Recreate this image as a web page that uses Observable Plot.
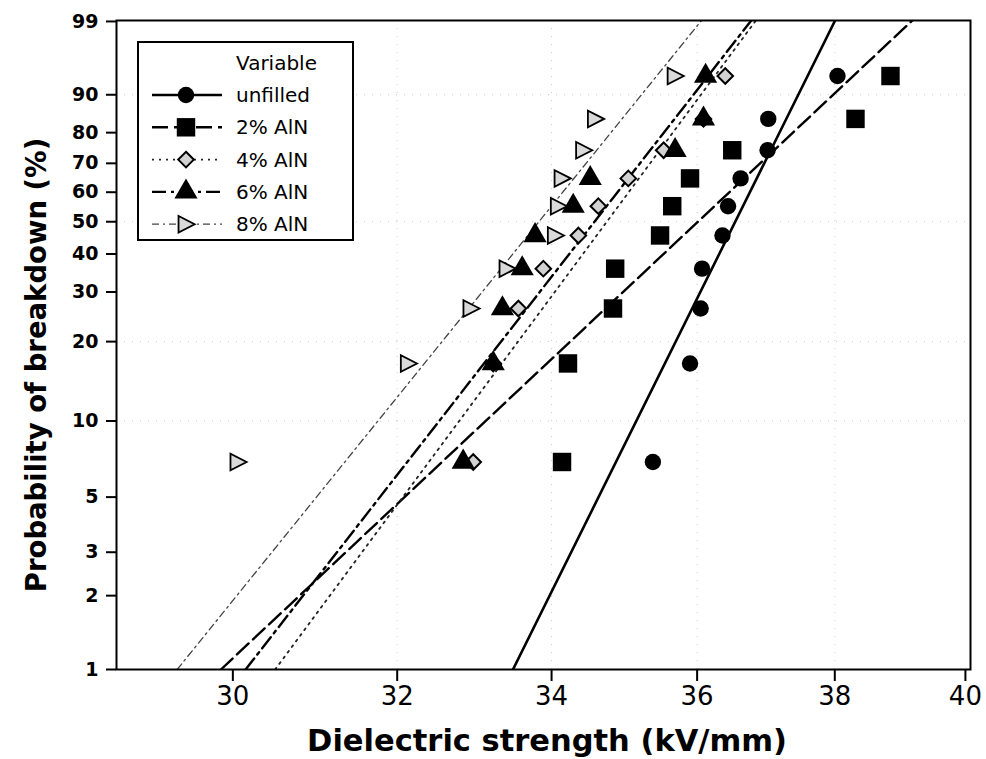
<!DOCTYPE html>
<html><head><meta charset="utf-8">
<script src="https://cdn.jsdelivr.net/npm/d3@7"></script>
<script src="https://cdn.jsdelivr.net/npm/@observablehq/plot@0.6"></script>
<style>body{margin:0;background:#fff} svg{display:block}</style>
</head><body><div id="chart"></div>
<script>
// ---- data ----
const seriesNames = ["unfilled", "2% AlN", "4% AlN", "6% AlN", "8% AlN"];
// plotting positions (median ranks, %), same for every series
const probs = [6.9, 16.6, 26.3, 35.9, 45.6, 55.2, 64.8, 74.4, 84.0, 93.6];
const unfilled = [35.38, 35.90, 36.05, 36.07, 36.36, 36.44, 36.62, 37.01, 37.02, 38.04];
const aln2 = [34.14, 34.22, 34.83, 34.86, 35.48, 35.65, 35.90, 36.50, 38.31, 38.84];
const aln4 = [32.97, 33.23, 33.56, 33.89, 34.36, 34.63, 35.04, 35.53, 36.09, 36.40];
const aln6 = [32.84, 33.23, 33.35, 33.61, 33.78, 34.29, 34.52, 35.69, 36.09, 36.12];
const aln8 = [30.06, 32.14, 32.94, 33.41, 34.05, 34.09, 34.14, 34.43, 34.59, 35.69];
// Weibull fit lines (shape, scale) per series
const fitShape = [48.5, 22.6, 32.5, 30.9, 29.8];
const fitScale = [36.82, 36.60, 35.14, 34.99, 34.25];
const xTicks = [30, 32, 34, 36, 38, 40];
const yTicks = [1, 2, 3, 5, 10, 20, 30, 40, 50, 60, 70, 80, 90, 99];

// ---- helpers ----
const W = p => Math.log(-Math.log(1 - p / 100));
const Winv = w => Math.round(100 * (1 - Math.exp(-Math.exp(w))));
const yMin = W(1), yMax = W(99) + 0.009;
const values = [unfilled, aln2, aln4, aln6, aln8];
const triRight = {
  draw(ctx, size) {
    const a = Math.sqrt(size / Math.PI);
    ctx.moveTo(a * 1.05, 0);
    ctx.lineTo(-a * 0.9, -a);
    ctx.lineTo(-a * 0.9, a);
    ctx.closePath();
  }
};
const styles = [
  {symbol: "circle", r: 8.2, fill: "black", stroke: "none", sw: 0, dash: null, lw: 2.6, lc: "black"},
  {symbol: "square", r: 10.4, fill: "black", stroke: "none", sw: 0, dash: "16,6", lw: 2.4, lc: "black"},
  {symbol: "diamond2", r: 7.0, fill: "#d2d2d2", stroke: "black", sw: 2, dash: "2,5", lw: 1.8, lc: "#222"},
  {symbol: "triangle", r: 8.6, fill: "black", stroke: "none", sw: 0, dash: "14,5,3,5", lw: 2.4, lc: "black"},
  {symbol: triRight, r: 8.3, fill: "#d9d9d9", stroke: "black", sw: 1.8, dash: "7,4,2,4", lw: 1.3, lc: "#444"}
];
const points = values.map((vals, k) => vals.map((v, i) => ({series: seriesNames[k], x: v, p: probs[i]})));
const fits = fitShape.map((b, k) => [yMin, yMax].map(w => ({x: fitScale[k] * Math.exp(w / b), w})));

const marks = [
  Plot.gridX([32, 34, 36, 38], {stroke: "#888", strokeOpacity: 0.45, strokeDasharray: "1,7"}),
  Plot.gridY([10, 20, 50, 90].map(W), {stroke: "#888", strokeOpacity: 0.45, strokeDasharray: "1,7"}),
];
fits.forEach((f, k) => {
  const s = styles[k];
  marks.push(Plot.line(f, {x: "x", y: "w", stroke: s.lc, strokeWidth: s.lw, strokeDasharray: s.dash, clip: true}));
});
points.forEach((pts, k) => {
  const s = styles[k];
  marks.push(Plot.dot(pts, {x: "x", y: d => W(d.p), symbol: s.symbol, r: s.r, fill: s.fill, stroke: s.stroke, strokeWidth: s.sw}));
});
marks.push(Plot.frame({stroke: "black", strokeWidth: 2}));
marks.push(Plot.axisX(xTicks, {tickSize: 12, tickPadding: 5, tickFormat: d => d, label: null, fontSize: 26, strokeWidth: 2}));
marks.push(Plot.axisY(yTicks.map(W), {tickSize: 10, tickPadding: 8, tickFormat: Winv, label: null, fontSize: 19, fontWeight: "bold", strokeWidth: 2}));

const chart = Plot.plot({
  width: 986, height: 759,
  marginLeft: 116, marginRight: 16, marginTop: 20, marginBottom: 90,
  style: {fontFamily: "DejaVu Sans", background: "white", color: "black"},
  x: {type: "log", domain: [28.66, 40.08]},
  y: {type: "linear", domain: [yMin, yMax]},
  marks
});
document.getElementById("chart").append(chart);

const svg = d3.select(chart);
svg.selectAll('[aria-label="x-axis tick label"]').attr("font-size", 26);
svg.selectAll('[aria-label="y-axis tick label"]').attr("font-size", 19).attr("font-weight", "bold");

// axis titles
svg.append("text").attr("x", 547).attr("y", 751).attr("text-anchor", "middle")
  .attr("font-family", "DejaVu Sans").attr("font-weight", "bold").attr("font-size", 30.5)
  .text("Dielectric strength (kV/mm)");
svg.append("text").attr("transform", "translate(46,365) rotate(-90)").attr("text-anchor", "middle")
  .attr("font-family", "DejaVu Sans").attr("font-weight", "bold").attr("font-size", 27.5)
  .text("Probability of breakdown (%)");

// legend
const lg = svg.append("g").attr("font-family", "DejaVu Sans").attr("text-anchor", "start");
lg.append("rect").attr("x", 138).attr("y", 42).attr("width", 215).attr("height", 198)
  .attr("fill", "white").attr("stroke", "black").attr("stroke-width", 2);
lg.append("text").attr("x", 236).attr("y", 70).attr("font-size", 20).text("Variable");
const symMap = {circle: d3.symbolCircle, square: d3.symbolSquare, diamond2: d3.symbolDiamond2, triangle: d3.symbolTriangle};
seriesNames.forEach((name, k) => {
  const s = styles[k];
  const y = 95 + 32.3 * k;
  lg.append("line").attr("x1", 152).attr("x2", 222).attr("y1", y).attr("y2", y)
    .attr("stroke", s.lc).attr("stroke-width", s.lw).attr("stroke-dasharray", s.dash);
  const type = typeof s.symbol === "string" ? symMap[s.symbol] : s.symbol;
  lg.append("path").attr("d", d3.symbol(type, s.r * s.r * Math.PI)())
    .attr("transform", `translate(186,${y})`)
    .attr("fill", s.fill).attr("stroke", s.stroke).attr("stroke-width", s.sw);
  lg.append("text").attr("x", 236).attr("y", y + 7).attr("font-size", 20).text(name);
});
</script>
</body></html>
